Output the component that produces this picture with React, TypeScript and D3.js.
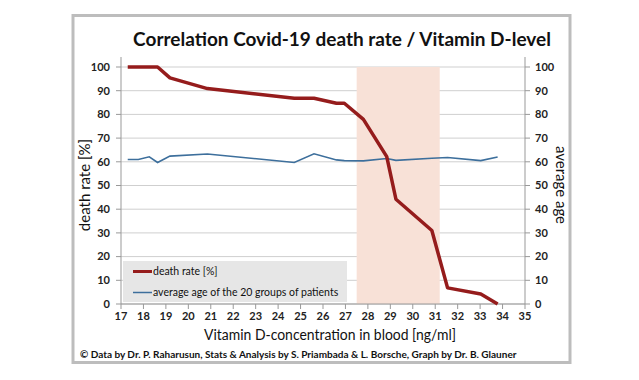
import React from "react";
import * as d3 from "d3";

const vitaminD = [17.3, 17.77, 18.26, 18.63, 19.18, 20.85, 24.72, 25.6, 26.6, 26.95, 27.8, 28.84, 29.25, 30.85, 31.55, 33.03, 33.78];
const deathRate = [100, 100, 100, 100, 95.4, 90.9, 86.8, 86.8, 84.7, 84.7, 77.9, 62.2, 44.2, 31, 6.8, 4.2, 0];
const averageAge = [61, 61, 62.1, 59.7, 62.4, 63.3, 59.7, 63.4, 60.8, 60.5, 60.4, 61.4, 60.6, 61.5, 61.8, 60.5, 62];
const xTicks = d3.range(17, 36, 1);
const yTicks = d3.range(0, 101, 10);
const band = [27.5, 31.2];
const seriesNames = ["death rate [%]", "average age of the 20 groups of patients"];

const W = 639, H = 380;
const FONT = "Lato, 'Open Sans', sans-serif";

export default function App() {
  const x = d3.scaleLinear().domain([17, 35]).range([121, 525]);
  const y = d3.scaleLinear().domain([0, 100]).range([304, 67]);
  const pts = vitaminD.map((v, i) => ({ v, d: deathRate[i], a: averageAge[i] }));
  const lineD = d3.line<any>().x(p => x(p.v)).y(p => y(p.d));
  const lineA = d3.line<any>().x(p => x(p.v)).y(p => y(p.a));
  const red = "#951c1c";
  const blue = "#3d6f9c";
  return (
    <svg width={W} height={H} style={{ position: "absolute", left: 0, top: 0, background: "#fff" }} fontFamily={FONT}>
      <rect x={0} y={0} width={W} height={H} fill="#fff" />
      <rect x={73} y={15.5} width={497} height={347} fill="#fff" stroke="#bdbdbd" strokeWidth={3} />
      <text x={342} y={46} textAnchor="middle" fontSize={19} fontWeight="bold" fill="#111">Correlation Covid-19 death rate / Vitamin D-level</text>
      {/* gridlines */}
      {yTicks.map(t => (
        <line key={"g" + t} x1={x(17)} x2={x(35)} y1={y(t)} y2={y(t)} stroke="#cfcfcf" strokeWidth={1} />
      ))}
      <rect x={x(band[0])} y={y(100)} width={x(band[1]) - x(band[0])} height={y(0) - y(100)} fill="#f8e1d7" />
      {/* left axis */}
      <line x1={x(17)} x2={x(17)} y1={57} y2={y(0)} stroke="#999" />
      {yTicks.map(t => (
        <g key={"l" + t}>
          <line x1={x(17) - 5} x2={x(17)} y1={y(t)} y2={y(t)} stroke="#999" />
          <text x={110} y={y(t)} dy="0.35em" textAnchor="end" fontSize={11} fontWeight="bold" fill="#222">{t}</text>
        </g>
      ))}
      {/* right axis */}
      <line x1={x(35)} x2={x(35)} y1={57} y2={y(0)} stroke="#999" />
      {yTicks.map(t => (
        <g key={"r" + t}>
          <line x1={x(35)} x2={x(35) + 5} y1={y(t)} y2={y(t)} stroke="#999" />
          <text x={535} y={y(t)} dy="0.35em" textAnchor="start" fontSize={11} fontWeight="bold" fill="#222">{t}</text>
        </g>
      ))}
      {/* bottom axis */}
      <line x1={x(17)} x2={x(35)} y1={y(0)} y2={y(0)} stroke="#999" />
      {xTicks.map(t => (
        <g key={"x" + t}>
          <line x1={x(t)} x2={x(t)} y1={y(0)} y2={y(0) + 5} stroke="#999" />
          <text x={x(t)} y={320} textAnchor="middle" fontSize={11} fontWeight="bold" fill="#222">{t}</text>
        </g>
      ))}
      <text transform={`translate(90,185) rotate(-90)`} textAnchor="middle" fontSize={15} fill="#111">death rate [%]</text>
      <text transform={`translate(556,185) rotate(90)`} textAnchor="middle" fontSize={15} fill="#111">average age</text>
      <text x={330} y={340} textAnchor="middle" fontSize={15.5} textLength={252} lengthAdjust="spacingAndGlyphs" fill="#111">Vitamin D-concentration in blood [ng/ml]</text>
      {/* legend */}
      <rect x={123} y={261} width={224} height={41} fill="#e6e6e6" />
      <line x1={133} x2={152} y1={271.5} y2={271.5} stroke={red} strokeWidth={3} />
      <text x={153} y={271.5} dy="0.35em" fontSize={10.5} fill="#111">{seriesNames[0]}</text>
      <line x1={133} x2={152} y1={292.5} y2={292.5} stroke={blue} strokeWidth={1.5} />
      <text x={153} y={292.5} dy="0.35em" fontSize={10.5} fill="#111">{seriesNames[1]}</text>
      {/* series */}
      <path d={lineA(pts) || ""} fill="none" stroke={blue} strokeWidth={1.6} />
      <path d={lineD(pts) || ""} fill="none" stroke={red} strokeWidth={3.5} strokeLinejoin="round" />
      <text x={80} y={358} fontSize={10} fontWeight="bold" fill="#111">© Data by Dr. P. Raharusun, Stats &amp; Analysis by S. Priambada &amp; L. Borsche, Graph by Dr. B. Glauner</text>
    </svg>
  );
}
